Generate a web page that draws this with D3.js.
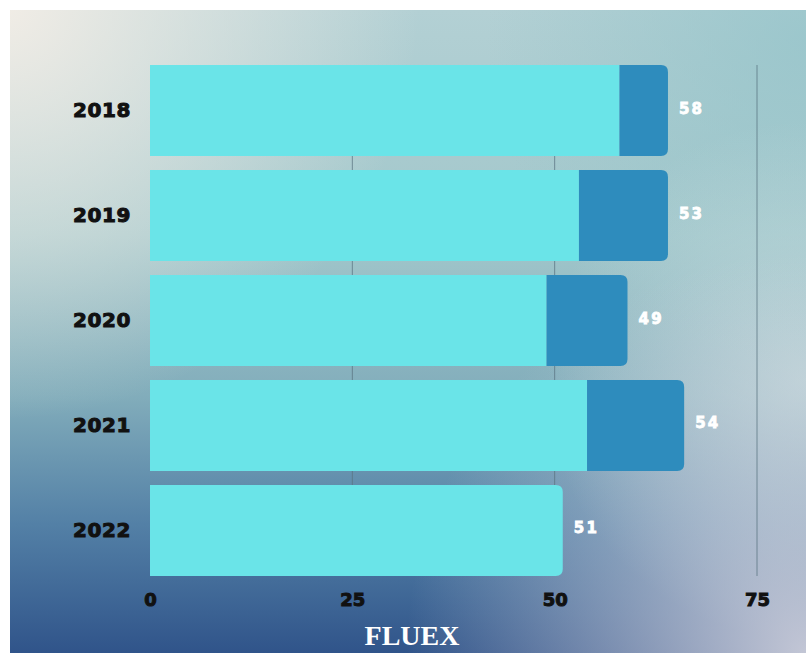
<!DOCTYPE html>
<html>
<head>
<meta charset="utf-8">
<script src="https://cdn.jsdelivr.net/npm/d3@7"></script>
<style>
  html, body { margin: 0; padding: 0; background: #ffffff; }
  svg { display: block; }
</style>
</head>
<body>
<svg id="chart" width="806" height="653"></svg>
<script>
// Yearly values: main (cyan) segment and the extra (dark blue) segment stacked after it
const years = ["2018", "2019", "2020", "2021", "2022"];
const mainValues = [58, 53, 49, 54, 51];
const extraValues = [6, 11, 10, 12, 0];
const xTicks = [0, 25, 50, 75];
const title = "FLUEX";

const W = 806, H = 653;
const svg = d3.select("#chart");
const defs = svg.append("defs");

// ---- background: layered gradients on a panel inset from the top/left edges ----
const base = defs.append("linearGradient").attr("id", "bgBase")
  .attr("x1", 0).attr("y1", 0).attr("x2", 0).attr("y2", 1);
[["0%", "#b3d0d4"], ["35%", "#a2c7cb"], ["60%", "#82adbb"], ["80%", "#5380a6"], ["100%", "#30548a"]]
  .forEach(([o, c]) => base.append("stop").attr("offset", o).attr("stop-color", c));

function radial(id, cx, cy, r, color, op) {
  const g = defs.append("radialGradient").attr("id", id)
    .attr("gradientUnits", "userSpaceOnUse")
    .attr("cx", cx).attr("cy", cy).attr("r", r);
  g.append("stop").attr("offset", "0%").attr("stop-color", color).attr("stop-opacity", op);
  g.append("stop").attr("offset", "100%").attr("stop-color", color).attr("stop-opacity", 0);
}
radial("glowTL", 0, 0, 420, "#f2ede6", 1);
radial("glowTR", 806, 40, 320, "#95c4ca", 0.75);
radial("glowR", 806, 380, 260, "#d0e0e2", 0.7);
radial("glowBR", 806, 653, 400, "#d3d3de", 0.9);

const panel = { x: 10, y: 10, w: W - 10, h: H - 10 };
["bgBase", "glowTR", "glowTL", "glowR", "glowBR"].forEach(id => {
  svg.append("rect")
    .attr("x", panel.x).attr("y", panel.y)
    .attr("width", panel.w).attr("height", panel.h)
    .attr("fill", `url(#${id})`);
});

// ---- scales ----
const x = d3.scaleLinear().domain([0, 75]).range([150, 757]);
const y = d3.scaleBand().domain(years).range([65, 576]).paddingInner(0.133).paddingOuter(0);

// ---- vertical gridlines ----
svg.append("g").selectAll("line")
  .data(xTicks.filter(t => t > 0))
  .join("line")
  .attr("x1", d => x(d)).attr("x2", d => x(d))
  .attr("y1", y.range()[0]).attr("y2", y.range()[1])
  .attr("stroke", "#5a7380")
  .attr("stroke-opacity", 0.75)
  .attr("stroke-width", 1);

// ---- bars ----
const rows = years.map((yr, i) => ({
  year: yr, main: mainValues[i], extra: extraValues[i]
}));

// rectangle whose right side may be rounded
function segPath(x0, x1, y0, h, roundRight, r) {
  if (!roundRight) return `M${x0},${y0}H${x1}V${y0 + h}H${x0}Z`;
  r = Math.min(r, (x1 - x0), h / 2);
  return `M${x0},${y0}H${x1 - r}Q${x1},${y0} ${x1},${y0 + r}` +
         `V${y0 + h - r}Q${x1},${y0 + h} ${x1 - r},${y0 + h}H${x0}Z`;
}
const R = 7;
const barG = svg.append("g");

barG.selectAll("path.main")
  .data(rows)
  .join("path")
  .attr("class", "main")
  .attr("fill", "#6ae4e8")
  .attr("d", d => segPath(x(0), x(d.main), y(d.year), y.bandwidth(), d.extra === 0, R));

barG.selectAll("path.extra")
  .data(rows.filter(d => d.extra > 0))
  .join("path")
  .attr("class", "extra")
  .attr("fill", "#2e8cbd")
  .attr("d", d => segPath(x(d.main), x(d.main + d.extra), y(d.year), y.bandwidth(), true, R));

// ---- value labels ----
svg.append("g").selectAll("text")
  .data(rows)
  .join("text")
  .attr("x", d => x(d.main + d.extra) + 11)
  .attr("y", d => y(d.year) + y.bandwidth() / 2 - 2)
  .attr("dominant-baseline", "central")
  .attr("fill", "#ffffff")
  .attr("stroke", "#ffffff")
  .attr("stroke-width", 0.8)
  .attr("font-family", "'DejaVu Sans', sans-serif")
  .attr("font-weight", "bold")
  .attr("font-size", 15)
  .attr("letter-spacing", 2.2)
  .text(d => d.main);

// ---- axes ----
const yAxis = svg.append("g")
  .attr("transform", `translate(${x(0)},0)`)
  .call(d3.axisLeft(y).tickSize(0).tickPadding(19));
yAxis.select(".domain").remove();
yAxis.selectAll("text")
  .attr("fill", "#111111")
  .attr("stroke", "#111111")
  .attr("stroke-width", 1)
  .attr("font-family", "'DejaVu Sans', sans-serif")
  .attr("font-weight", "bold")
  .attr("font-size", 20)
  .attr("letter-spacing", 0.6);

const xAxis = svg.append("g")
  .attr("transform", `translate(0,${y.range()[1]})`)
  .call(d3.axisBottom(x).tickValues(xTicks).tickSize(0).tickPadding(17));
xAxis.select(".domain").remove();
xAxis.selectAll("text")
  .attr("fill", "#111111")
  .attr("stroke", "#111111")
  .attr("stroke-width", 1)
  .attr("font-family", "'DejaVu Sans', sans-serif")
  .attr("font-weight", "bold")
  .attr("font-size", 18);

// ---- title ----
svg.append("text")
  .attr("x", 412)
  .attr("y", 645)
  .attr("text-anchor", "middle")
  .attr("fill", "#ffffff")
  .attr("font-family", "'Liberation Serif', 'Times New Roman', serif")
  .attr("font-weight", "bold")
  .attr("font-size", 28)
  .text(title);
</script>
</body>
</html>
